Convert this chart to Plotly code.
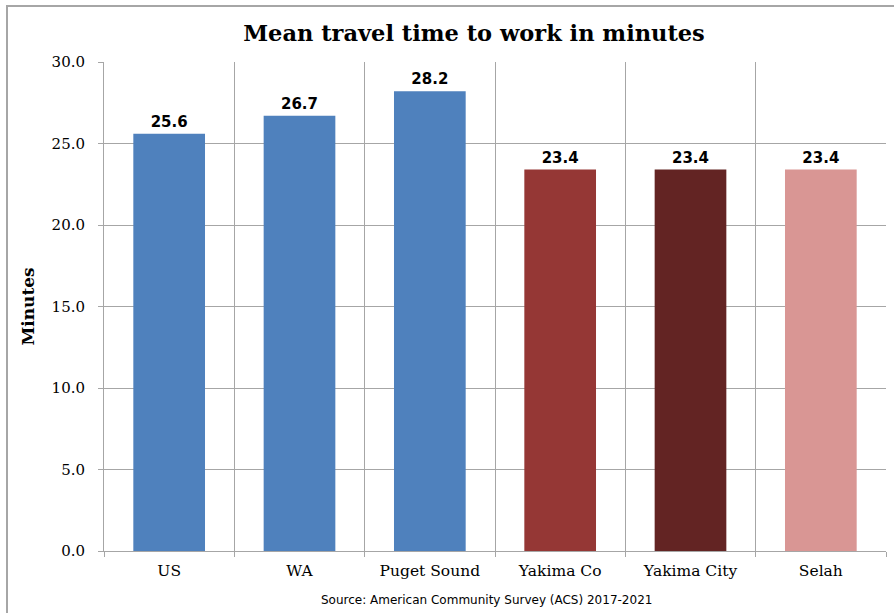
import plotly.graph_objects as go

categories = ["US", "WA", "Puget Sound", "Yakima Co", "Yakima City", "Selah"]
values = [25.6, 26.7, 28.2, 23.4, 23.4, 23.4]
colors = ["#4F81BD", "#4F81BD", "#4F81BD", "#953735", "#632423", "#D99694"]
y_ticks = [0, 5, 10, 15, 20, 25, 30]

W, H = 894, 613
L, R, T, B = 104, 8, 62, 62
pw, ph = W - L - R, H - T - B

def px_x(px):
    return (px - L) / pw

def px_y(py):
    return (H - B - py) / ph

fig = go.Figure(go.Bar(
    x=categories, y=values,
    marker=dict(color=colors, line=dict(width=0)),
    text=[f"{v:.1f}" for v in values],
    textposition="outside",
    textfont=dict(family="DejaVu Sans", size=15, color="#000000", weight="bold"),
    cliponaxis=False,
))

fig.update_layout(
    width=W, height=H,
    margin=dict(l=L, r=R, t=T, b=B),
    paper_bgcolor="white", plot_bgcolor="white",
    bargap=0.45,
    showlegend=False,
    title=dict(text="<b>Mean travel time to work in minutes</b>",
               x=474 / W, xanchor="center",
               y=1 - 33 / H, yanchor="middle",
               font=dict(family="DejaVu Serif", size=22.5, color="#000000")),
    xaxis=dict(
        type="category",
        tickson="boundaries",
        showgrid=True, gridcolor="#A6A6A6", gridwidth=1,
        showline=True, linecolor="#A6A6A6", linewidth=1,
        ticks="outside", ticklen=5, tickcolor="#A6A6A6",
        ticklabelstandoff=5,
        tickfont=dict(family="DejaVu Serif", size=15.5, color="#000000"),
    ),
    yaxis=dict(
        range=[0, 30], tickvals=y_ticks, tickformat=".1f",
        showgrid=True, gridcolor="#A6A6A6", gridwidth=1,
        showline=True, linecolor="#A6A6A6", linewidth=1,
        ticks="outside", ticklen=5, tickcolor="#A6A6A6",
        ticklabelstandoff=10,
        tickfont=dict(family="DejaVu Serif", size=15, color="#000000"),
        title=dict(text="<b>Minutes</b>", standoff=12,
                   font=dict(family="DejaVu Serif", size=17, color="#000000")),
        zeroline=False,
    ),
    annotations=[dict(
        text="Source: American Community Survey (ACS) 2017-2021",
        xref="paper", yref="paper", x=px_x(486), y=px_y(600),
        xanchor="center", yanchor="middle", showarrow=False,
        font=dict(family="DejaVu Sans", size=12, color="#000000"),
    )],
    shapes=[dict(
        type="rect", xref="paper", yref="paper",
        x0=px_x(7), x1=px_x(905), y0=px_y(625), y1=px_y(6),
        line=dict(color="#A6A6A6", width=2), layer="below",
    )],
)

fig.write_html("out.html")
